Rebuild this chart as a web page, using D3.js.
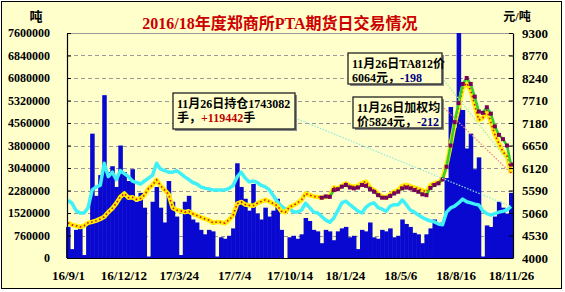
<!DOCTYPE html>
<html>
<head>
<meta charset="utf-8">
<script src="https://cdn.jsdelivr.net/npm/d3@7"></script>
<style>
body { margin: 0; background: #fff; }
svg { display: block; }
text { font-family: "Liberation Serif", "Noto Sans CJK SC", serif; font-weight: bold; }
</style>
</head>
<body>
<svg width="565" height="292"></svg>
<script>
//==================================================
//Data (roughly one point per week)

var xLabels = ["16/9/1", "16/12/12", "17/3/24", "17/7/4", "17/10/14", "18/1/24", "18/5/6", "18/8/16", "18/11/26"];
var leftTicks = [0, 760000, 1520000, 2280000, 3040000, 3800000, 4560000, 5320000, 6080000, 6840000, 7600000];
var rightTicks = [4000, 4530, 5060, 5590, 6120, 6650, 7180, 7710, 8240, 8770, 9300];

//daily volume (blue bars)
var volume = [
  1050000, 300000, 950000, 1000000, 100000, 1150000, 4200000, 2100000, 2800000, 5500000,
  2900000, 3100000, 2400000, 3800000, 2900000, 2600000, 3000000, 1900000, 2200000, 1700000,
  50000, 1900000, 2400000, 1700000, 1200000, 2600000, 1900000, 1400000, 100000, 1900000,
  2100000, 1300000, 1200000, 950000, 800000, 950000, 900000, 50000, 700000, 650000,
  750000, 1000000, 3200000, 2400000, 2000000, 1600000, 2500000, 1500000, 1300000, 1700000,
  1400000, 1600000, 2000000, 950000, 0, 700000, 750000, 650000, 800000, 1350000,
  1250000, 950000, 900000, 500000, 950000, 900000, 600000, 900000, 1000000, 1050000,
  700000, 750000, 300000, 950000, 900000, 1200000, 700000, 650000, 950000, 900000,
  1000000, 700000, 750000, 1300000, 1150000, 1050000, 850000, 800000, 500000, 800000,
  1000000, 1300000, 1150000, 1200000, 2700000, 5100000, 4400000, 7600000, 5000000, 3700000,
  4200000, 3000000, 3400000, 50000, 1100000, 1050000, 1400000, 1900000, 1700000, 1500000,
  2200000
];

//open interest (cyan line, left axis)
var openInt = [
  1950000, 1850000, 1600000, 1520000, 1520000, 1700000, 2300000, 2400000, 2450000, 3200000,
  2750000, 2900000, 2650000, 2950000, 2850000, 2750000, 2600000, 2550000, 2500000, 2600000,
  2700000, 2800000, 3200000, 3000000, 2950000, 2900000, 2900000, 2950000, 2850000, 2740000,
  2650000, 2550000, 2500000, 2400000, 2360000, 2330000, 2300000, 2300000, 2300000, 2300000,
  2350000, 2450000, 2740000, 2900000, 2700000, 2570000, 2600000, 2550000, 2450000, 2400000,
  2300000, 2100000, 1900000, 1750000, 1650000, 1680000, 1550000, 1550000, 1620000, 1850000,
  1700000, 1550000, 1520000, 1400000, 1280000, 1210000, 1350000, 1600000, 1860000, 1920000,
  1800000, 1690000, 1580000, 1520000, 1720000, 1820000, 1860000, 1700000, 1650000, 1580000,
  1750000, 1800000, 1800000, 1960000, 1800000, 1620000, 1550000, 1450000, 1370000, 1300000,
  1250000, 1220000, 1150000, 1120000, 1550000, 1690000, 1750000, 1860000, 1990000, 1900000,
  1860000, 1820000, 1790000, 1600000, 1500000, 1450000, 1500000, 1550000, 1580000, 1620000,
  1740000
];

//weighted average price (yellow line, right axis)
var avgPrice = [
  4830, 4780, 4760, 4730, 4760, 4830, 4850, 4880, 4920, 4970,
  5080, 5170, 5290, 5440, 5520, 5420, 5430, 5380, 5400, 5480,
  5640, 5720, 5840, 5700, 5600, 5500, 5180, 5130, 5110, 5080,
  5100, 5040, 5000, 4960, 4920, 4890, 4830, 4850, 4840, 4820,
  4900, 5000, 5280, 5320, 5260, 5240, 5230, 5290, 5330, 5370,
  5330, 5280, 5230, 5100, 5080, 5200, 5240, 5300, 5370, 5520,
  5480, 5450, 5440, 5420, 5440, 5460, 5660, 5640, 5700, 5760,
  5700, 5680, 5700, 5770, 5800, 5660, 5600, 5520, 5450, 5420,
  5500, 5560, 5600, 5700, 5720, 5690, 5660, 5630, 5600, 5550,
  5720, 5760, 5780, 5880, 6200, 6650, 7150, 7550, 8000, 8120,
  7950, 7600, 7250, 7300, 7480, 7200, 6900, 6700, 6500, 6400,
  6000
];

//TA main contract price (purple squares, right axis)
var mainPrice = [
  null, null, null, null, null, null, null, null, null, null,
  null, null, null, null, null, null, null, null, null, null,
  null, null, null, null, null, null, null, null, null, null,
  null, null, null, null, null, null, null, null, null, null,
  null, null, null, null, null, null, null, null, null, null,
  null, null, null, null, null, null, null, null, null, null,
  null, null, null, 5420, 5450, 5440, 5600, 5620, 5680, 5720,
  5660, 5640, 5660, 5720, 5700, 5620, 5560, 5480, 5420, 5420,
  5460, 5520, 5560, 5640, 5660, 5640, 5600, 5560, 5500, 5480,
  5650, 5720, 5760, 5850, 6150, 6650, 7200, 7650, 8100, 8240,
  8100, 7800, 7450, 7420, 7550, 7400, 7100, 6900, 6800, 6650,
  6200
];


//==================================================
//Layout

var svg = d3.select("svg");
var pLeft = 67, pRight = 513, pTop = 33, pBottom = 258;

svg.append("rect").attr("x", 1.5).attr("y", 1.5).attr("width", 560).attr("height", 287)
    .attr("fill", "#FFFFCC").attr("stroke", "#000");

var x = d3.scaleLinear().domain([0, volume.length - 1]).range([pLeft + 1, pRight - 2]);
var yL = d3.scaleLinear().domain([0, 7600000]).range([pBottom, pTop]);
var yR = d3.scaleLinear().domain([4000, 9300]).range([pBottom, pTop]);
var step = x(1) - x(0);

//grid lines
svg.append("g").selectAll("line")
    .data(leftTicks.slice(1, -1))
    .enter().append("line")
    .attr("x1", pLeft).attr("x2", pRight)
    .attr("y1", function(d) { return Math.round(yL(d)) + 0.5; })
    .attr("y2", function(d) { return Math.round(yL(d)) + 0.5; })
    .attr("stroke", "#999").attr("stroke-dasharray", "4,3");
svg.append("line").attr("x1", pLeft).attr("x2", pRight).attr("y1", pTop + 0.5).attr("y2", pTop + 0.5)
    .attr("stroke", "#999");

//volume bars
svg.append("g").selectAll("rect")
    .data(volume)
    .enter().append("rect")
    .attr("x", function(d, i) { return x(i) - step / 2; })
    .attr("width", step + 0.5)
    .attr("y", function(d) { return yL(d); })
    .attr("height", function(d) { return pBottom - yL(d); })
    .attr("fill", "#0808D0");

//open interest
var lineL = d3.line().x(function(d, i) { return x(i); }).y(function(d) { return yL(d); });
svg.append("path").attr("d", lineL(openInt))
    .attr("fill", "none").attr("stroke", "#40F0F8").attr("stroke-width", 3.5).attr("stroke-linejoin", "round");

//prices
var lineR = d3.line().defined(function(d) { return d != null; })
    .x(function(d, i) { return x(i); }).y(function(d) { return yR(d); });
svg.append("path").attr("d", lineR(avgPrice))
    .attr("fill", "none").attr("stroke", "#FFEE00").attr("stroke-width", 4.5).attr("stroke-linejoin", "round");
svg.append("path").attr("d", lineR(avgPrice))
    .attr("fill", "none").attr("stroke", "#E01010").attr("stroke-width", 1.6).attr("stroke-dasharray", "1.6,2.6");

svg.append("path").attr("d", lineR(mainPrice))
    .attr("fill", "none").attr("stroke", "#33CC33").attr("stroke-width", 2.5);
svg.append("g").selectAll("rect")
    .data(mainPrice.map(function(d, i) { return {v: d, i: i}; }).filter(function(d) { return d.v != null; }))
    .enter().append("rect")
    .attr("x", function(d) { return x(d.i) - 2; })
    .attr("y", function(d) { return yR(d.v) - 2; })
    .attr("width", 4).attr("height", 4)
    .attr("fill", "#7A0058");


//==================================================
//Annotations

var last = volume.length - 1;
function connector(x1, y1, x2, y2, color) {
    svg.append("line").attr("x1", x1).attr("y1", y1).attr("x2", x2).attr("y2", y2)
        .attr("stroke", color).attr("stroke-width", 1.2).attr("stroke-dasharray", "1.5,1.5");
}
connector(295, 118, x(last), yL(openInt[last]), "#90E8E0");
connector(442, 78, x(last), yR(mainPrice[last]), "#A0E8A0");
connector(442, 106, x(last), yR(avgPrice[last]), "#F08080");

function box(bx, by, bw, bh, lines) {
    svg.append("rect").attr("x", bx + 2).attr("y", by + 2).attr("width", bw).attr("height", bh)
        .attr("fill", "#888");
    svg.append("rect").attr("x", bx).attr("y", by).attr("width", bw).attr("height", bh)
        .attr("fill", "#FFFFCC").attr("stroke", "#222").attr("stroke-width", 1.3);
    lines.forEach(function(l, k) {
        var t = svg.append("text").attr("x", bx + 4).attr("y", by + 15 + k * 14)
            .attr("font-size", 12).attr("fill", "#000");
        l.forEach(function(part) {
            t.append("tspan").attr("fill", part[1]).text(part[0]);
        });
    });
}
box(173, 93, 122, 36, [[["11月26日持仓1743082", "#000"]], [["手，", "#000"], ["+119442", "#C00000"], ["手", "#000"]]]);
box(348, 53, 94, 31, [[["11月26日TA812价", "#000"]], [["6064元，", "#000"], ["-198", "#000080"]]]);
box(353, 97, 89, 31, [[["11月26日加权均", "#000"]], [["价5824元，", "#000"], ["-212", "#000080"]]]);


//==================================================
//Axes

var axL = svg.append("g").attr("transform", "translate(" + pLeft + ",0)")
    .call(d3.axisLeft(yL).tickValues(leftTicks).tickSize(-4).tickSizeOuter(0).tickPadding(17)
        .tickFormat(function(d) { return String(d); }));
var axR = svg.append("g").attr("transform", "translate(" + pRight + ",0)")
    .call(d3.axisRight(yR).tickValues(rightTicks).tickSize(-4).tickSizeOuter(0).tickPadding(9)
        .tickFormat(function(d) { return String(d); }));
var tickIdx = xLabels.map(function(d, k) { return k * last / (xLabels.length - 1); });
var axB = svg.append("g").attr("transform", "translate(0," + pBottom + ")")
    .call(d3.axisBottom(x).tickValues(tickIdx).tickSize(0).tickPadding(13)
        .tickFormat(function(d, k) { return xLabels[k]; }));

[axL, axR, axB].forEach(function(a) {
    a.selectAll(".domain").attr("stroke", "#000").attr("stroke-width", 1.2);
    a.selectAll("line").attr("stroke", "#000");
    a.selectAll("text").attr("fill", "#000").attr("font-size", 12.5)
        .attr("font-family", "Liberation Serif").attr("font-weight", "bold");
});
axL.selectAll("text").attr("font-size", 12);
axR.selectAll("text").attr("font-size", 13);
axB.selectAll("text").attr("font-size", 13);

//titles
svg.append("text").attr("x", 280).attr("y", 29).attr("text-anchor", "middle")
    .attr("font-size", 16).attr("fill", "#CC0000")
    .text("2016/18年度郑商所PTA期货日交易情况");
svg.append("text").attr("x", 36).attr("y", 21).attr("text-anchor", "middle")
    .attr("font-size", 13).attr("fill", "#000").text("吨");
svg.append("text").attr("x", 517).attr("y", 21).attr("text-anchor", "middle")
    .attr("font-size", 12).attr("fill", "#000").text("元/吨");
</script>
</body>
</html>
